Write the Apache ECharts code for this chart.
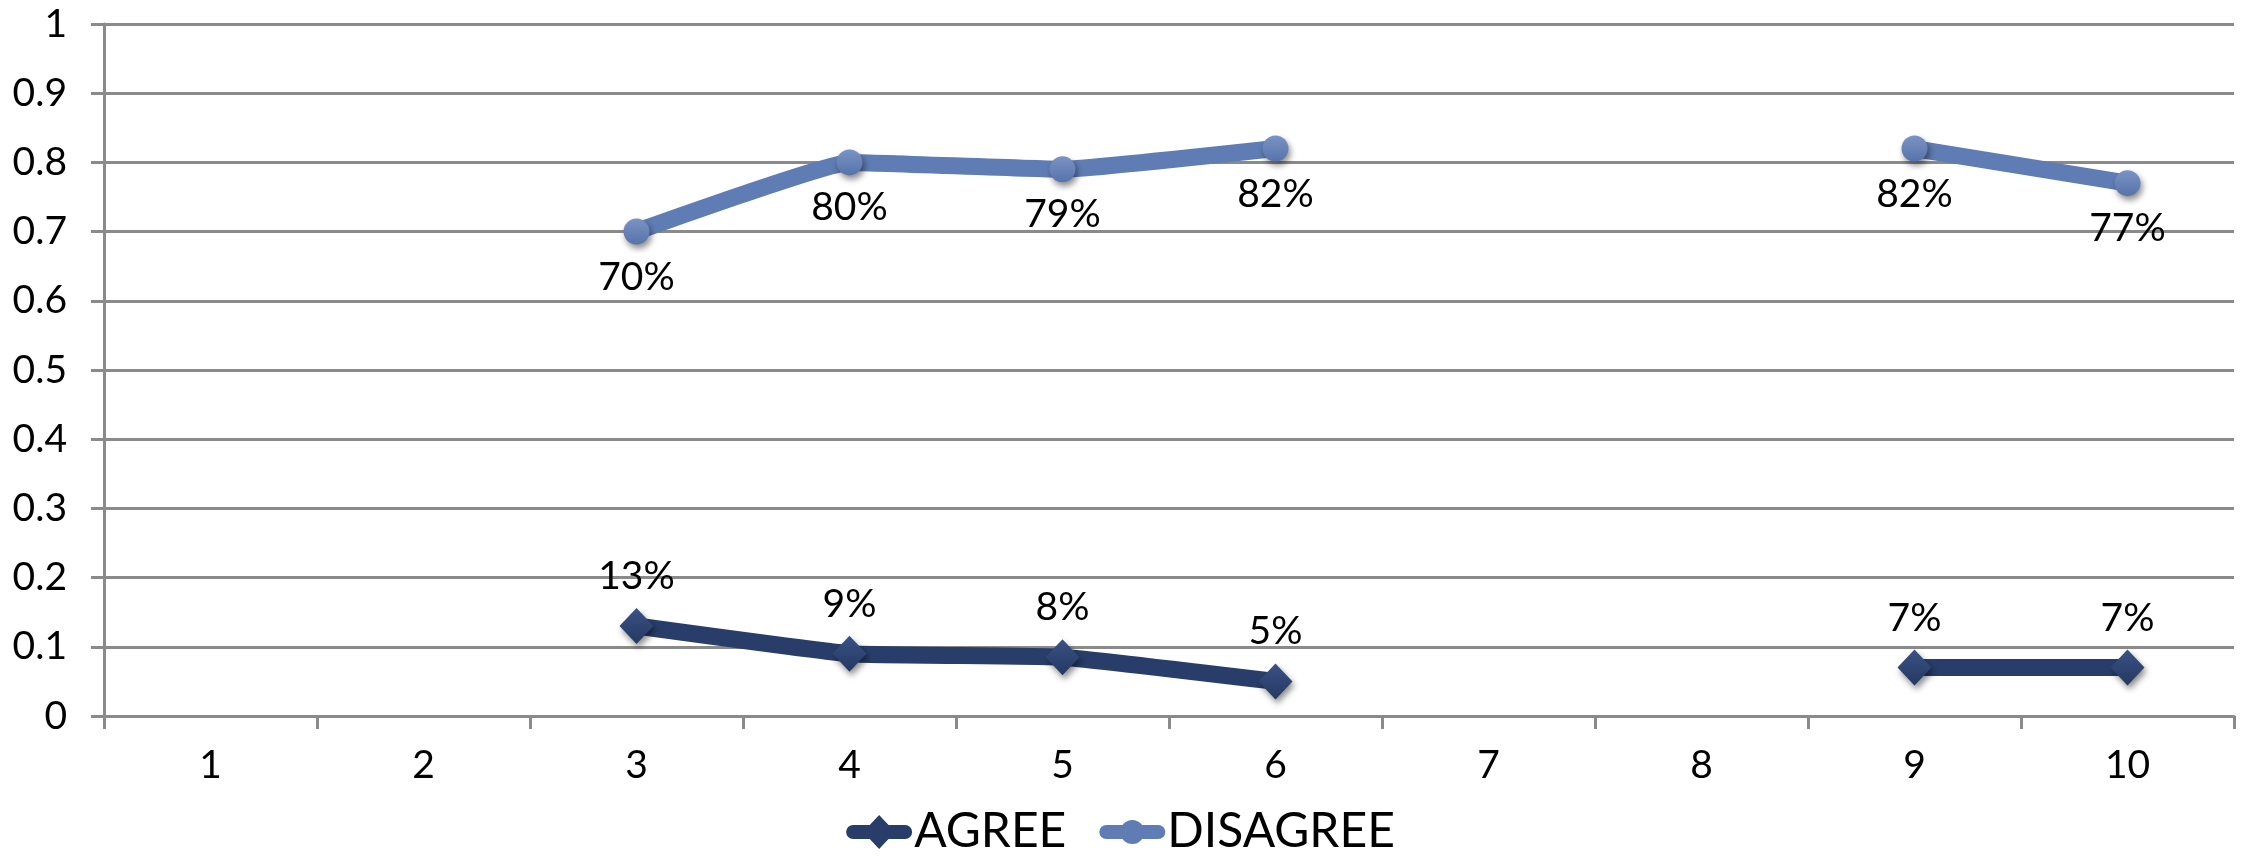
<!DOCTYPE html>
<html>
<head>
<meta charset="utf-8">
<script src="https://cdn.jsdelivr.net/npm/echarts@6/dist/echarts.min.js"></script>
<style>
html,body{margin:0;padding:0;background:#fff;}
#chart{width:2241px;height:861px;}
</style>
</head>
<body>
<div id="chart"></div>
<script>
const categories = ['1','2','3','4','5','6','7','8','9','10'];
const agreeValues = [null, null, 0.13, 0.09, 0.085, 0.05, null, null, 0.07, 0.07];
const disagreeValues = [null, null, 0.70, 0.80, 0.79, 0.82, null, null, 0.82, 0.77];
const agreeLabels = [null, null, '13%', '9%', '8%', '5%', null, null, '7%', '7%'];
const disagreeLabels = [null, null, '70%', '80%', '79%', '82%', null, null, '82%', '77%'];

const FONT = 'Lato, "Noto Sans", sans-serif';
const GRID_COLOR = '#8a8a8a';
const AGREE_COLOR = '#283d69';
const DISAGREE_COLOR = '#5f7cb4';

const AGREE_ICON = 'path://M7,10 L59,10 A7,7 0 0 1 59,24 L7,24 A7,7 0 0 1 7,10 Z M33,0 L49,17 L33,34 L17,17 Z';
const DISAGREE_ICON = 'path://M7,10 L59,10 A7,7 0 0 1 59,24 L7,24 A7,7 0 0 1 7,10 Z M21,17 A12,12 0 1 1 45,17 A12,12 0 1 1 21,17 Z';

const chart = echarts.init(document.getElementById('chart'), null, {renderer: 'canvas'});
chart.setOption({
  animation: false,
  backgroundColor: '#ffffff',
  grid: {left: 104, right: 7, top: 24, bottom: 145, containLabel: false},
  legend: {
    bottom: 0,
    left: 'center',
    itemWidth: 66,
    itemHeight: 34,
    itemGap: 33,
    textStyle: {fontFamily: FONT, fontSize: 48, color: '#000', padding: [0, 0, 0, -3]},
    data: [
      {name: 'AGREE', icon: AGREE_ICON, itemStyle: {color: AGREE_COLOR}},
      {name: 'DISAGREE', icon: DISAGREE_ICON, itemStyle: {color: DISAGREE_COLOR}}
    ]
  },
  xAxis: {
    type: 'category',
    data: categories,
    boundaryGap: true,
    axisLine: {show: true, lineStyle: {color: GRID_COLOR, width: 3}},
    axisTick: {show: true, length: 13, lineStyle: {color: GRID_COLOR, width: 3}},
    axisLabel: {fontFamily: FONT, fontSize: 39, color: '#000', margin: 30}
  },
  yAxis: {
    type: 'value',
    min: 0, max: 1, interval: 0.1,
    axisLine: {show: true, lineStyle: {color: GRID_COLOR, width: 3}},
    axisTick: {show: true, length: 13, lineStyle: {color: GRID_COLOR, width: 3}},
    splitLine: {show: true, lineStyle: {color: GRID_COLOR, width: 3}},
    axisLabel: {fontFamily: FONT, fontSize: 39, color: '#000', margin: 37}
  },
  series: [
    {
      name: 'AGREE',
      type: 'line',
      data: agreeValues,
      connectNulls: false,
      smooth: 0.1,
      symbol: 'diamond',
      symbolSize: [34, 36],
      lineStyle: {color: AGREE_COLOR, width: 17},
      itemStyle: {
        color: new echarts.graphic.LinearGradient(0, 0, 0, 1, [
          {offset: 0, color: '#3a5285'}, {offset: 1, color: '#243861'}
        ]),
        borderWidth: 0,
        shadowBlur: 6, shadowColor: 'rgba(0,0,0,0.45)', shadowOffsetX: 2, shadowOffsetY: 4
      },
      label: {
        show: true, position: 'top', distance: 12,
        fontFamily: FONT, fontSize: 39, color: '#000',
        formatter: p => agreeLabels[p.dataIndex]
      },
      z: 3
    },
    {
      name: 'DISAGREE',
      type: 'line',
      data: disagreeValues,
      connectNulls: false,
      smooth: 0.1,
      symbol: 'circle',
      symbolSize: 26,
      lineStyle: {color: DISAGREE_COLOR, width: 17},
      itemStyle: {
        color: new echarts.graphic.LinearGradient(0, 0, 0, 1, [
          {offset: 0, color: '#7b93c4'}, {offset: 1, color: '#5673ab'}
        ]),
        borderWidth: 0,
        shadowBlur: 6, shadowColor: 'rgba(0,0,0,0.45)', shadowOffsetX: 2, shadowOffsetY: 4
      },
      label: {
        show: true, position: 'bottom', distance: 13,
        fontFamily: FONT, fontSize: 39, color: '#000',
        formatter: p => disagreeLabels[p.dataIndex]
      },
      z: 3
    }
  ]
});
</script>
</body>
</html>
